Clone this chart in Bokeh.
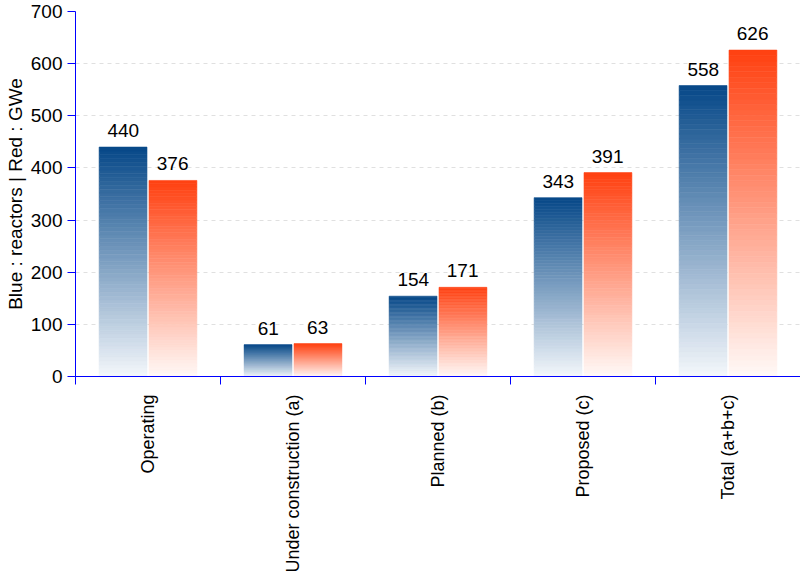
import math
from bokeh.plotting import figure
from bokeh.models import ColumnDataSource, FixedTicker, Range1d, LabelSet
from bokeh.core.properties import value
from bokeh.embed import file_html
from bokeh.resources import INLINE

categories = ["Operating", "Under construction (a)", "Planned (b)", "Proposed (c)", "Total (a+b+c)"]
reactors = [440, 61, 154, 343, 558]
gwe = [376, 63, 171, 391, 626]
y_ticks = [0, 100, 200, 300, 400, 500, 600, 700]
y_title = "Blue : reactors | Red : GWe"

FONT = "Liberation Sans"
FS = "19px"
FS_X = "18px"
BAR_W = 0.33
OFFSET = 0.17
N_SLICES = 60

p = figure(width=800, height=575, x_range=Range1d(0, len(categories)), y_range=Range1d(0, 700),
           output_backend="svg", toolbar_location=None,
           min_border_left=75, min_border_right=0, min_border_top=11, min_border_bottom=199)
p.outline_line_color = None
p.background_fill_color = "white"

def lerp(c1, c2, t):
    return "#%02x%02x%02x" % tuple(int(round(a + (b - a) * t)) for a, b in zip(c1, c2))

def gradient_bars(values, dx, top_rgb, bottom_rgb):
    L, R, B, T, C = [], [], [], [], []
    for i, v in enumerate(values):
        xc = i + 0.5 + dx
        for k in range(N_SLICES):
            frac = (k + 0.5) / N_SLICES  # 0 bottom -> 1 top
            L.append(xc - BAR_W / 2)
            R.append(xc + BAR_W / 2)
            B.append(v * k / N_SLICES)
            T.append(v * (k + 1) / N_SLICES)
            C.append(lerp(bottom_rgb, top_rgb, frac))
    src = ColumnDataSource(dict(left=L, right=R, bottom=B, top=T, color=C))
    p.quad(left="left", right="right", bottom="bottom", top="top", fill_color="color",
           line_color="color", line_width=0.6, source=src)

gradient_bars(reactors, -OFFSET - 0.002, (6, 72, 136), (244, 247, 251))
gradient_bars(gwe, OFFSET + 0.002, (255, 64, 16), (255, 250, 248))

lab_src = ColumnDataSource(dict(
    x=[i + 0.5 - OFFSET for i in range(len(categories))] + [i + 0.5 + OFFSET for i in range(len(categories))],
    y=reactors + gwe,
    text=[str(v) for v in reactors + gwe]))
p.add_layout(LabelSet(x="x", y="y", text="text", source=lab_src, text_align="center",
                      text_baseline="alphabetic", y_offset=10, text_font_size=FS,
                      text_font=value(FONT), text_color="black"))

# y axis
yax = p.yaxis[0]
yax.ticker = FixedTicker(ticks=y_ticks, minor_ticks=[])
yax.axis_line_color = "#0000ff"
yax.major_tick_line_color = "#0000ff"
yax.major_tick_out = 8
yax.major_tick_in = 0
yax.minor_tick_line_color = None
yax.major_label_text_font = FONT
yax.major_label_text_font_size = FS
yax.major_label_text_color = "black"
yax.major_label_standoff = 5
yax.axis_label = y_title
yax.axis_label_text_font = FONT
yax.axis_label_text_font_size = FS
yax.axis_label_text_font_style = "normal"
yax.axis_label_text_color = "black"
yax.axis_label_standoff = 2

# x axis
xax = p.xaxis[0]
centers = [i + 0.5 for i in range(len(categories))]
xax.ticker = FixedTicker(ticks=centers, minor_ticks=list(range(len(categories) + 1)))
xax.major_label_overrides = {c: name for c, name in zip(centers, categories)}
xax.major_label_orientation = math.pi / 2
xax.axis_line_color = "#0000ff"
xax.major_tick_line_color = None
xax.major_tick_out = 0
xax.major_tick_in = 0
xax.minor_tick_line_color = "#0000ff"
xax.minor_tick_out = 8
xax.minor_tick_in = 0
xax.major_label_text_font = FONT
xax.major_label_text_font_size = FS_X
xax.major_label_text_color = "black"
xax.major_label_standoff = 10

p.xgrid.grid_line_color = None
p.ygrid.grid_line_color = "#e0e0e0"
p.ygrid.grid_line_dash = "4 4"

open("out.html", "w").write(file_html(p, INLINE))
